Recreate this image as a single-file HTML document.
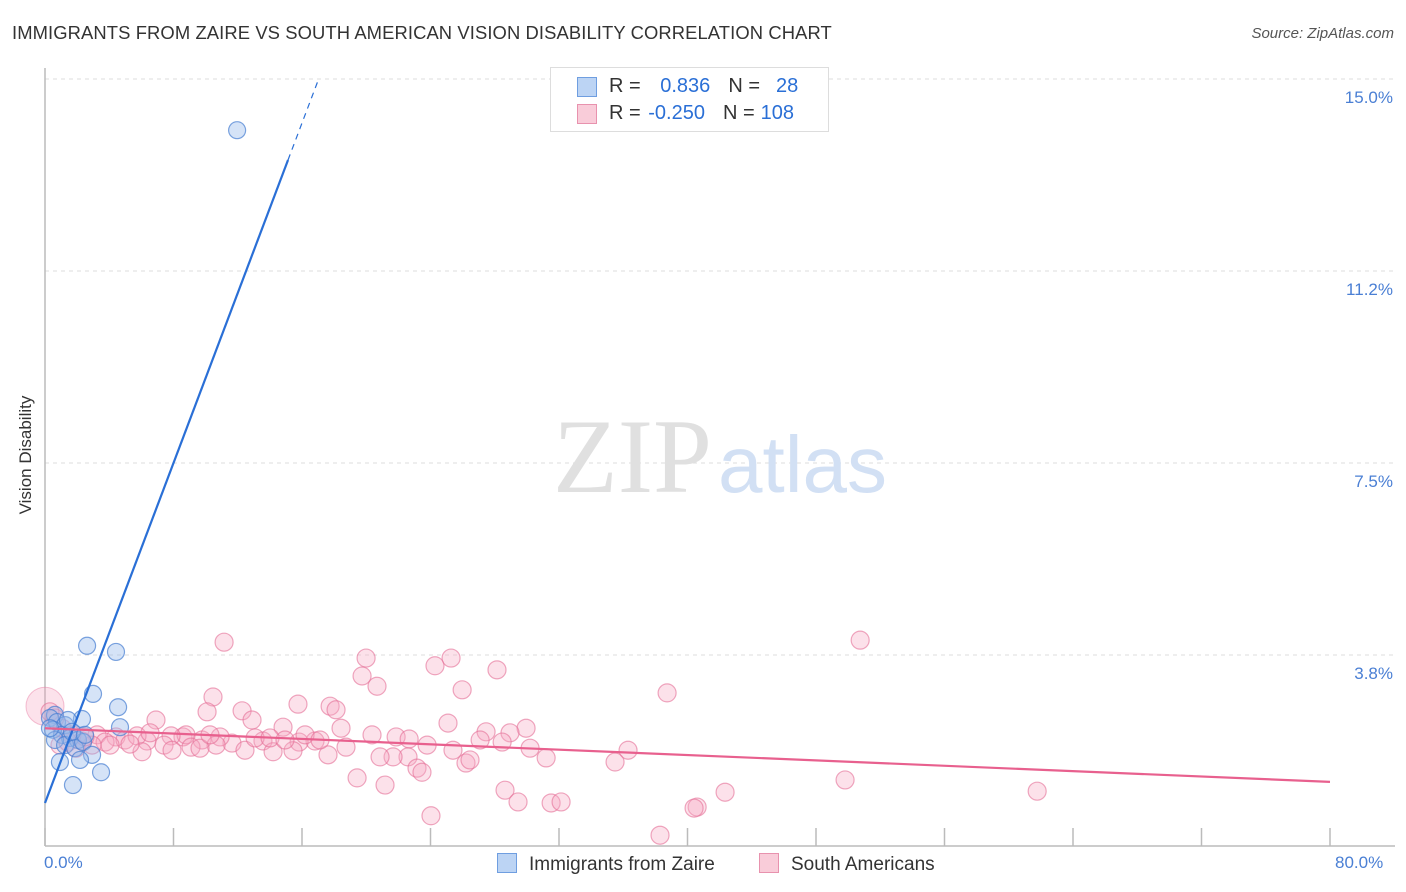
<!DOCTYPE html>
<html><head><meta charset="utf-8"><style>
body{margin:0;background:#fff;font-family:"Liberation Sans",sans-serif}
#wrap{position:relative;width:1406px;height:892px}
.t{position:absolute;white-space:nowrap}
</style></head><body>
<div id="wrap">
<div class="t" style="left:12px;top:22px;font-size:18.4px;color:#333;letter-spacing:0.1px">IMMIGRANTS FROM ZAIRE VS SOUTH AMERICAN VISION DISABILITY CORRELATION CHART</div>
<div class="t" style="right:12px;top:25px;font-size:15px;color:#555;font-style:italic">Source: ZipAtlas.com</div>
<svg id="svg" width="1406" height="892" style="position:absolute;left:0;top:0"></svg>
</div>
<script>
const pinkX=[11.15,50.75,19.99,25.28,24.28,28.14,19.74,20.67,25.97,38.73,10.46,15.75,17.75,18.12,12.27,10.09,6.91,12.89,25.09,14.82,18.43,29.95,27.46,28.95,20.36,21.86,22.67,27.09,23.79,28.46,4.42,8.59,4.98,6.35,9.78,13.57,16.81,11.64,15.82,10.90,8.78,7.85,5.73,3.24,3.74,7.41,9.09,10.65,18.74,14.20,12.45,6.04,15.44,7.91,17.62,25.40,30.20,36.30,22.60,21.67,20.86,35.49,26.21,26.46,31.20,19.43,21.17,23.16,23.47,42.34,49.81,61.77,28.64,29.45,31.51,32.13,40.60,40.41,24.03,38.29,2.93,2.30,1.68,1.06,0.62,0.31,0.93,1.43,1.93,2.49,4.05,5.29,6.54,9.65,10.27,13.08,14.01,14.94,16.19,17.12];
const pinkY=[4.00,4.04,3.69,3.69,3.54,3.46,3.34,3.14,3.07,3.01,2.93,2.79,2.75,2.68,2.66,2.64,2.48,2.48,2.42,2.34,2.32,2.32,2.25,2.23,2.19,2.15,2.11,2.09,1.99,2.05,2.15,2.15,2.09,2.07,2.09,2.07,2.07,2.03,2.05,2.15,2.19,2.17,2.17,2.19,2.05,1.99,1.95,1.99,1.95,1.86,1.89,1.86,1.88,1.89,1.80,1.89,1.93,1.89,1.76,1.76,1.76,1.66,1.64,1.70,1.74,1.35,1.21,1.54,1.46,1.07,1.31,1.09,1.11,0.88,0.86,0.88,0.78,0.76,0.61,0.23,1.99,2.07,2.19,2.32,2.52,2.64,1.99,2.05,1.93,2.15,1.99,2.01,2.23,1.93,2.19,2.13,2.13,2.09,2.19,2.09];
const blueX=[11.96,2.62,4.42,2.99,4.55,2.30,4.67,0.62,0.31,0.75,1.25,0.50,1.06,1.56,2.05,0.62,1.25,1.87,2.37,2.93,2.18,0.93,3.49,1.74,0.31,1.43,1.68,2.49];
const blueY=[14.00,3.93,3.81,2.99,2.73,2.50,2.34,2.58,2.52,2.44,2.38,2.29,2.19,2.13,2.09,2.09,1.99,1.93,2.05,1.80,1.70,1.66,1.46,1.21,2.32,2.48,2.25,2.19];
const blueTrend=[0.86,0.83]; // intercept, slope
const pinkTrend=[2.32,-0.0131];
const yTicks=[15.0,11.25,7.5,3.75];
const yTickLabels=["15.0%","11.2%","7.5%","3.8%"];
const xTicks=[0,8,16,24,32,40,48,56,64,72,80];

const svg=document.getElementById('svg');const NS='http://www.w3.org/2000/svg';
const sx=v=>45+v/80*1285, sy=v=>847-v/3.75*192;
function mk(t,a){const e=document.createElementNS(NS,t);for(const k in a)e.setAttribute(k,a[k]);svg.appendChild(e);return e;}
yTicks.forEach((v,i)=>{
 let g=mk('line',{x1:45,x2:1395,y1:sy(v),y2:sy(v),stroke:'#ddd','stroke-dasharray':'4,4'});
 
 
 let t=mk('text',{x:1393,y:sy(v)+24,'text-anchor':'end',fill:'#4a7fd4','font-size':17});t.textContent=yTickLabels[i];
 
 
});
let ax=mk('line',{x1:45,x2:45,y1:68,y2:846,stroke:'#bbb','stroke-width':1.5});


let bx=mk('line',{x1:45,x2:1395,y1:846,y2:846,stroke:'#bbb','stroke-width':1.5});


xTicks.forEach(v=>{let l=mk('line',{x1:sx(v),x2:sx(v),y1:828,y2:846,stroke:'#bbb','stroke-width':1.5});
 
 });
let w1=mk('text',{x:553,y:492,fill:'#e0e0e0','font-size':106,'font-family':'Liberation Serif, serif'});w1.textContent='ZIP';


let w2=mk('text',{x:718,y:492,fill:'#d2e0f4','font-size':80});w2.textContent='atlas';


let big=mk('circle',{cx:sx(0),cy:sy(2.75),r:19,fill:'rgba(244,160,190,0.3)',stroke:'rgba(230,120,160,0.45)'});


pinkX.forEach((v,i)=>{let c=mk('circle',{cx:sx(v),cy:sy(pinkY[i]),r:9,fill:'rgba(246,170,196,0.35)',stroke:'rgba(228,110,150,0.6)','stroke-width':1.2});
 
 });
blueX.forEach((v,i)=>{let c=mk('circle',{cx:sx(v),cy:sy(blueY[i]),r:8.5,fill:'rgba(150,185,235,0.4)',stroke:'rgba(70,125,210,0.7)','stroke-width':1.2});
 
 });
const bx1=15.13, bx2=17.04;
let bl=mk('line',{x1:sx(0),y1:sy(blueTrend[0]),x2:sx(bx1),y2:sy(blueTrend[0]+blueTrend[1]*bx1),stroke:'#2a6fd6','stroke-width':2.2});


let bd=mk('line',{x1:sx(bx1),y1:sy(blueTrend[0]+blueTrend[1]*bx1),x2:sx(bx2),y2:sy(blueTrend[0]+blueTrend[1]*bx2),stroke:'#2a6fd6','stroke-width':1.2,'stroke-dasharray':'6,5'});


let pl=mk('line',{x1:sx(0),y1:sy(pinkTrend[0]),x2:sx(80),y2:sy(pinkTrend[0]+pinkTrend[1]*80),stroke:'#e8608e','stroke-width':2.2});


</script>
<div class="t" style="left:-34px;top:445px;font-size:17px;color:#333;transform:rotate(-90deg);width:120px;text-align:center">Vision Disability</div>
<div class="t" style="left:44px;top:853px;font-size:17px;color:#4a7fd4">0.0%</div>
<div class="t" style="left:1335px;top:853px;font-size:17px;color:#4a7fd4">80.0%</div>
<div style="position:absolute;left:550px;top:67px;width:277px;height:63px;border:1px solid #ddd;background:#fff;font-size:20px">
 <div style="position:absolute;left:26px;top:9px;width:18px;height:18px;background:#bcd4f4;border:1px solid #6f9ee0"></div>
 <div class="t" style="left:58px;top:7px;color:#333">R = <span style="color:#2a6fd6;margin-left:14px">0.836</span><span style="margin-left:18px;color:#333">N =</span><span style="color:#2a6fd6;margin-left:16px">28</span></div>
 <div style="position:absolute;left:26px;top:36px;width:18px;height:18px;background:#f9ccd9;border:1px solid #e892ae"></div>
 <div class="t" style="left:58px;top:34px;color:#333">R = <span style="color:#2a6fd6;margin-left:2px">-0.250</span><span style="margin-left:18px;color:#333">N =</span><span style="color:#2a6fd6;margin-left:6px">108</span></div>
</div>
<div style="position:absolute;left:497px;top:853px;font-size:19px;color:#333">
 <span style="display:inline-block;width:18px;height:18px;background:#bcd4f4;border:1px solid #6f9ee0;vertical-align:-3px"></span><span style="margin-left:12px">Immigrants from Zaire</span></div>
<div style="position:absolute;left:759px;top:853px;font-size:19px;color:#333">
 <span style="display:inline-block;width:18px;height:18px;background:#f9ccd9;border:1px solid #e892ae;vertical-align:-3px"></span><span style="margin-left:12px">South Americans</span></div>
</body></html>
